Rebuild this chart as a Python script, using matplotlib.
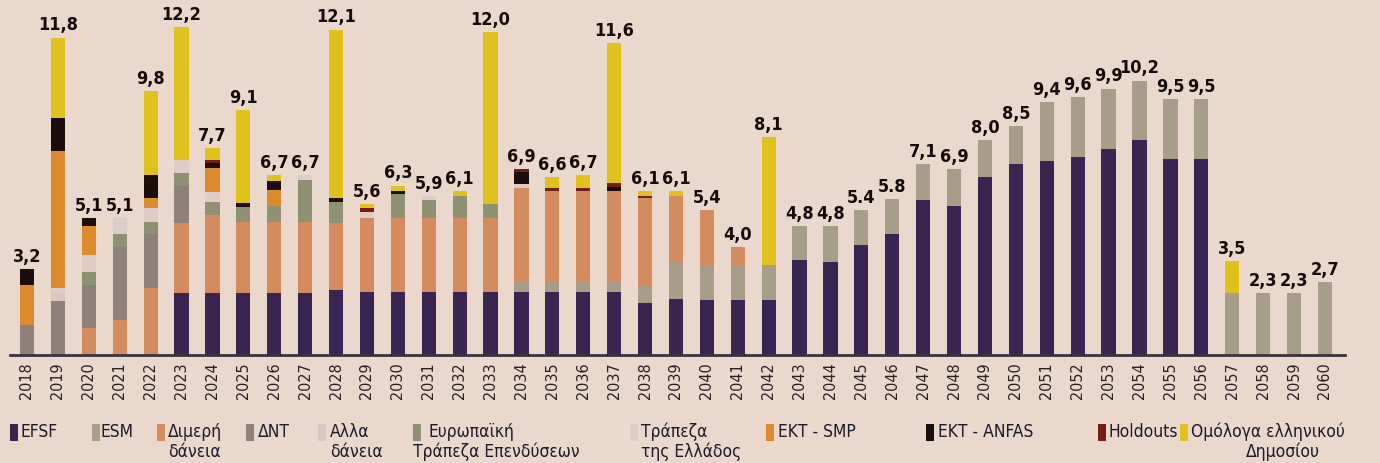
import matplotlib
matplotlib.use("Agg")
import matplotlib.pyplot as plt
from matplotlib.patches import Rectangle
from matplotlib import font_manager
import numpy as np

cond = any(f.name == "DejaVu Sans" and str(f.stretch) in ("condensed", "semi-condensed", "300", "400")
           for f in font_manager.fontManager.ttflist)
plt.rcParams['font.family'] = ['DejaVu Sans']
STRETCH = "condensed" if cond else "normal"

years = list(range(2018, 2061))
labels = ["3,2", "11,8", "5,1", "5,1", "9,8", "12,2", "7,7", "9,1", "6,7", "6,7",
          "12,1", "5,6", "6,3", "5,9", "6,1", "12,0", "6,9", "6,6", "6,7", "11,6",
          "6,1", "6,1", "5,4", "4,0", "8,1", "4,8", "4,8", "5.4", "5.8", "7,1",
          "6,9", "8,0", "8,5", "9,4", "9,6", "9,9", "10,2", "9,5", "9,5", "3,5",
          "2,3", "2,3", "2,7"]

def series(d):
    return [d.get(y, 0.0) for y in years]

efsf = series({2023: 2.3, 2024: 2.3, 2025: 2.3, 2026: 2.3, 2027: 2.3, 2028: 2.4,
               2029: 2.35, 2030: 2.35, 2031: 2.35, 2032: 2.35, 2033: 2.35, 2034: 2.35,
               2035: 2.35, 2036: 2.35, 2037: 2.35, 2038: 1.95, 2039: 2.1, 2040: 2.05,
               2041: 2.05, 2042: 2.05, 2043: 3.55, 2044: 3.45, 2045: 4.1, 2046: 4.5,
               2047: 5.75, 2048: 5.55, 2049: 6.6, 2050: 7.1, 2051: 7.2, 2052: 7.35,
               2053: 7.65, 2054: 8.0, 2055: 7.3, 2056: 7.3})
esm = series({2034: 0.4, 2035: 0.4, 2036: 0.4, 2037: 0.4, 2038: 0.65, 2039: 1.35,
              2040: 1.3, 2041: 1.3, 2042: 1.3, 2043: 1.25, 2044: 1.35, 2045: 1.3,
              2046: 1.3, 2047: 1.35, 2048: 1.35, 2049: 1.4, 2050: 1.4, 2051: 2.2,
              2052: 2.25, 2053: 2.25, 2054: 2.2, 2055: 2.2, 2056: 2.2, 2057: 2.3,
              2058: 2.3, 2059: 2.3, 2060: 2.7})
bilateral = series({2020: 1.0, 2021: 1.3, 2022: 2.5, 2023: 2.6, 2024: 2.9, 2025: 2.65,
                    2026: 2.65, 2027: 2.65, 2028: 2.5, 2029: 2.75, 2030: 2.75,
                    2031: 2.75, 2032: 2.75, 2033: 2.75, 2034: 3.45, 2035: 3.35,
                    2036: 3.35, 2037: 3.35, 2038: 3.25, 2039: 2.45, 2040: 2.05,
                    2041: 0.65})
imf = series({2018: 1.1, 2019: 2.0, 2020: 1.6, 2021: 2.7, 2022: 2.0, 2023: 1.4})
other_loans = series({2019: 0.3})
eib = series({2020: 0.5, 2021: 0.5, 2022: 0.45, 2023: 0.45, 2024: 0.5, 2025: 0.55,
              2026: 0.6, 2027: 1.55, 2028: 0.8, 2030: 0.9, 2031: 0.65, 2032: 0.8,
              2033: 0.5})
bog = series({2019: 0.2, 2020: 0.6, 2021: 0.6, 2022: 0.5, 2023: 0.5, 2024: 0.35,
              2027: 0.2, 2029: 0.2, 2031: 0.15, 2034: 0.15})
smp = series({2018: 1.5, 2019: 5.1, 2020: 1.1, 2022: 0.4, 2024: 0.9, 2026: 0.6})
anfa = series({2018: 0.6, 2019: 1.2, 2020: 0.3, 2022: 0.85, 2024: 0.2, 2025: 0.15,
               2026: 0.3, 2028: 0.15, 2030: 0.1, 2034: 0.45, 2037: 0.15})
holdouts = series({2024: 0.1, 2029: 0.15, 2034: 0.1, 2035: 0.1, 2036: 0.1, 2037: 0.15,
                   2038: 0.05})
bonds = series({2019: 3.0, 2022: 3.1, 2023: 4.95, 2024: 0.45, 2025: 3.45, 2026: 0.25,
                2028: 6.25, 2029: 0.15, 2030: 0.2, 2032: 0.2, 2033: 6.4, 2035: 0.4,
                2036: 0.5, 2037: 5.2, 2038: 0.2, 2039: 0.2, 2042: 4.75, 2057: 1.2})

series_names = ["EFSF", "ESM", "Διμερή δάνεια", "ΔΝΤ", "Αλλα δάνεια",
                "Ευρωπαϊκή Τράπεζα Επενδύσεων", "Τράπεζα της Ελλάδος",
                "ΕΚΤ - SMP", "ΕΚΤ - ANFAS", "Holdouts", "Ομόλογα ελληνικού Δημοσίου"]
series_vals = [efsf, esm, bilateral, imf, other_loans, eib, bog, smp, anfa, holdouts, bonds]
colors = ["#3a2552", "#a89d89", "#d48c5e", "#8d8179", "#d9c8c2", "#8f9272",
          "#ddccc8", "#dc8a2c", "#1c0d0d", "#741d12", "#e0c21c"]

BG = "#ebd8cd"
W, H = 1380, 463
fig = plt.figure(figsize=(W / 100, H / 100), dpi=100, facecolor=BG)

def fx(x): return x / W
def fy(y): return 1 - y / H

ax = fig.add_axes([fx(10), fy(355), fx(1345) - fx(10), fy(0) - fy(355)])
ax.set_facecolor(BG)

x = np.arange(len(years))
bottom = np.zeros(len(years))
for vals, c in zip(series_vals, colors):
    v = np.array(vals)
    ax.bar(x, v, bottom=bottom, width=0.46, color=c, linewidth=0)
    bottom += v

lab_fs = 13 if cond else 11
for xi, tot, lab in zip(x, bottom, labels):
    ax.text(xi, tot + 0.12, lab, ha="center", va="bottom", fontsize=lab_fs,
            fontweight="bold", fontstretch=STRETCH, color="#150a0a")

ax.set_xlim(-0.55, 42.65)
ax.set_ylim(0, 355 / 26.9)
for s in ["left", "right", "top"]:
    ax.spines[s].set_visible(False)
ax.spines["bottom"].set_color("#3d3040")
ax.spines["bottom"].set_linewidth(2)
ax.set_yticks([])
ax.set_xticks(x)
ax.set_xticklabels([str(y) for y in years], rotation=90,
                   fontsize=(11.5 if cond else 10.5), fontstretch=STRETCH,
                   color="#2a2020")
ax.tick_params(axis="x", length=0, pad=5)

# legend
legend_items = [
    (0, 10, 21, None, None),
    (1, 92, 101, None, None),
    (2, 157, 168, "δάνεια", 168),
    (3, 246, 258, None, None),
    (4, 318, 330, "δάνεια", 330),
    (5, 413, 428, "Τράπεζα Επενδύσεων", 413),
    (6, 630, 641, "της Ελλάδος", 641),
    (7, 766, 778, None, None),
    (8, 926, 938, None, None),
    (9, 1098, 1108, None, None),
    (10, 1180, 1191, "Δημοσίου", 1246),
]
first_lines = ["EFSF", "ESM", "Διμερή", "ΔΝΤ", "Αλλα", "Ευρωπαϊκή", "Τράπεζα",
               "ΕΚΤ - SMP", "ΕΚΤ - ANFAS", "Holdouts", "Ομόλογα ελληνικού"]
leg_fs = 12.5 if cond else 11
for idx, sx, tx, l2, l2x in legend_items:
    fig.add_artist(Rectangle((fx(sx), fy(441)), 8 / W, 17 / H,
                             transform=fig.transFigure, color=colors[idx], lw=0))
    fig.text(fx(tx), fy(432), first_lines[idx], ha="left", va="center",
             fontsize=leg_fs, fontstretch=STRETCH, color="#1e1a2a")
    if l2:
        fig.text(fx(l2x), fy(452), l2, ha="left", va="center",
                 fontsize=leg_fs, fontstretch=STRETCH, color="#1e1a2a")

fig.savefig("out.png", dpi=100, facecolor=BG)
